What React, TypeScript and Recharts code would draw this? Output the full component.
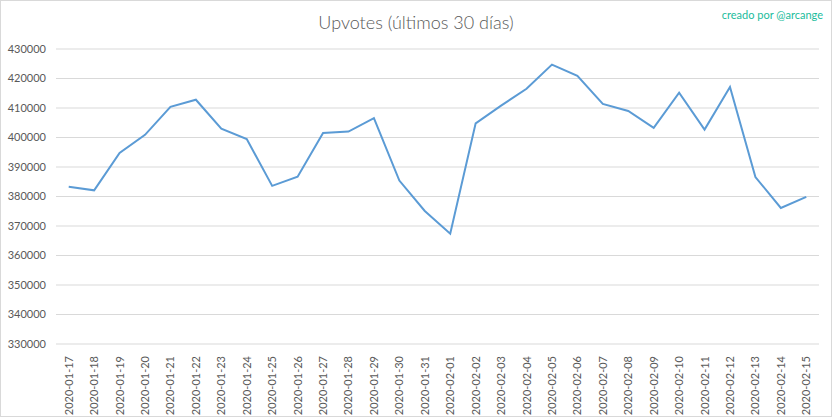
import { CartesianGrid, Line, LineChart, XAxis, YAxis } from 'recharts'

const dates = [
  '2020-01-17', '2020-01-18', '2020-01-19', '2020-01-20', '2020-01-21',
  '2020-01-22', '2020-01-23', '2020-01-24', '2020-01-25', '2020-01-26',
  '2020-01-27', '2020-01-28', '2020-01-29', '2020-01-30', '2020-01-31',
  '2020-02-01', '2020-02-02', '2020-02-03', '2020-02-04', '2020-02-05',
  '2020-02-06', '2020-02-07', '2020-02-08', '2020-02-09', '2020-02-10',
  '2020-02-11', '2020-02-12', '2020-02-13', '2020-02-14', '2020-02-15',
]

const upvotes = [
  383300, 382100, 394800, 400900, 410400, 412800, 403000, 399500, 383600, 386700,
  401500, 402000, 406600, 385400, 375100, 367400, 404800, 410800, 416500, 424700,
  420900, 411400, 409000, 403300, 415200, 402700, 417100, 386600, 376100, 379900,
]

const yTicks = [330000, 340000, 350000, 360000, 370000, 380000, 390000, 400000, 410000, 420000, 430000]

const data = dates.map((date, i) => ({ date, upvotes: upvotes[i] }))

const FONT = 'Lato, "Open Sans", sans-serif'

function DateTick(props: any) {
  const { x, y, payload } = props
  return (
    <text
      x={x + 4}
      y={y}
      transform={`rotate(-90, ${x + 4}, ${y})`}
      textAnchor="end"
      fontSize={11}
      fill="#595959"
      fontFamily={FONT}
    >
      {payload.value}
    </text>
  )
}

export default function App() {
  return (
    <div
      style={{
        position: 'fixed',
        top: 0,
        left: 0,
        width: 832,
        height: 417,
        boxSizing: 'border-box',
        border: '1px solid #d9d9d9',
        background: '#fff',
        fontFamily: FONT,
      }}
    >
      <div
        style={{
          position: 'absolute',
          top: 10,
          left: 0,
          width: 830,
          textAlign: 'center',
          fontSize: 18,
          fontWeight: 300,
          color: '#595959',
        }}
      >
        Upvotes (últimos 30 días)
      </div>
      <div
        style={{
          position: 'absolute',
          top: 7,
          right: 8,
          fontSize: 11,
          color: '#1abc9c',
        }}
      >
        creado por @arcange
      </div>
      <LineChart
        width={830}
        height={415}
        data={data}
        margin={{ top: 48, right: 12, left: 0, bottom: 0 }}
        style={{ position: 'absolute', top: 0, left: 0 }}
      >
        <CartesianGrid stroke="#d9d9d9" vertical={false} />
        <XAxis
          dataKey="date"
          scale="band"
          interval={0}
          height={72}
          axisLine={false}
          tickLine={false}
          tick={<DateTick />}
          tickMargin={6}
        />
        <YAxis
          domain={[330000, 430000]}
          ticks={yTicks}
          width={55}
          axisLine={false}
          tickLine={false}
          tickMargin={4}
          tick={{ fontSize: 11, fill: '#595959', fontFamily: FONT }}
        />
        <Line
          type="linear"
          dataKey="upvotes"
          stroke="#5b9bd5"
          strokeWidth={2}
          dot={false}
          isAnimationActive={false}
        />
      </LineChart>
    </div>
  )
}
